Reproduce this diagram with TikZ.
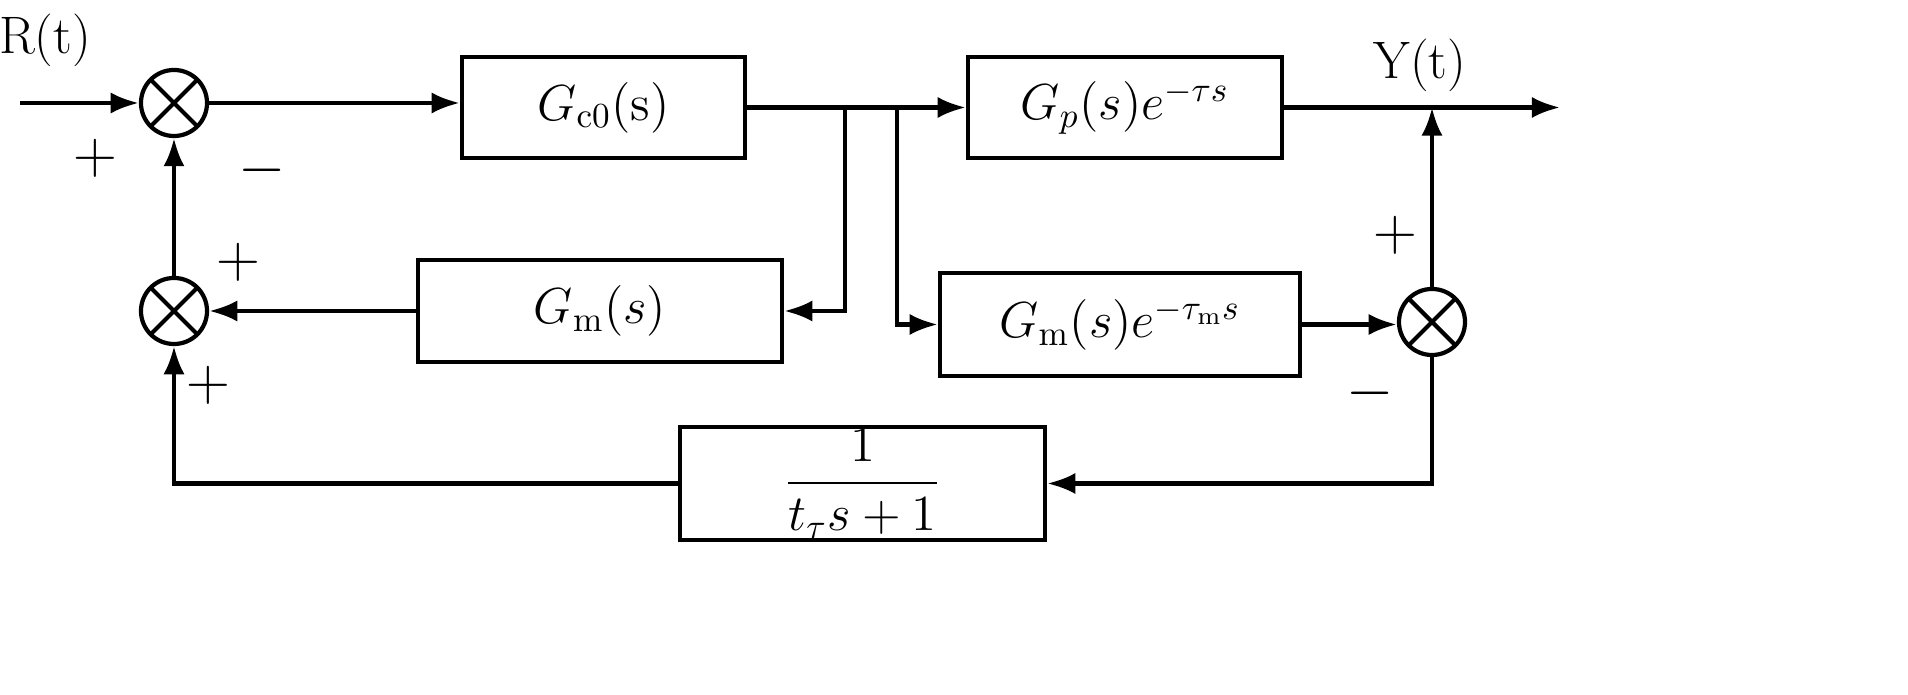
\documentclass[tikz,border=0pt]{standalone}
\usetikzlibrary{arrows.meta}
\begin{document}
\begin{tikzpicture}[x=0.01cm,y=-0.01cm,
  blk/.style={draw,line width=1.2pt,inner sep=0pt},
  sum/.style={draw,circle,line width=1.2pt,minimum size=0.66cm,inner sep=0pt,path picture={\draw[line width=1.2pt] ([shift={(-0.233cm,0.233cm)}]path picture bounding box.center)--([shift={(0.233cm,-0.233cm)}]path picture bounding box.center) ([shift={(0.233cm,0.233cm)}]path picture bounding box.center)--([shift={(-0.233cm,-0.233cm)}]path picture bounding box.center);}},
  ar/.style={line width=1.2pt,-{Latex[length=8pt,width=6pt]}},
  ln/.style={line width=1.2pt},
  lbl/.style={font=\fontsize{14}{16}\selectfont},
  sg/.style={font=\fontsize{18}{20}\selectfont}]
\useasboundingbox (0,0) rectangle (1908,695);
\node[sum] (s1) at (174,103) {};
\node[sum] (s2) at (174,311) {};
\node[sum] (s3) at (1432,322) {};
\node[blk,minimum height=1.01cm,minimum width=2.83cm,lbl] (gc) at (603.5,107.5) {$G_{\mathrm{c0}}(\mathrm{s})$};
\node[blk,minimum height=1.01cm,minimum width=3.14cm,lbl] (gp) at (1125,107.5) {$G_p(s)e^{-\tau s}$};
\node[blk,minimum height=1.02cm,minimum width=3.64cm,lbl] (gm) at (600,311) {$G_{\mathrm{m}}(s)$};
\node[blk,minimum height=1.03cm,minimum width=3.60cm,lbl] (gme) at (1120,324.5) {$G_{\mathrm{m}}(s)e^{-\tau_{\mathrm{m}}s}$};
\node[blk,minimum height=1.13cm,minimum width=3.65cm,lbl] (f) at (862.5,483.5) {$\displaystyle\frac{1}{t_\tau s+1}$};
\coordinate (in) at (20,103);
\coordinate (out) at (1560,107.5);
\coordinate (b1) at (845,107.5);
\coordinate (b2) at (897,107.5);
\coordinate (y) at (1432,107.5);
\draw[ar] (in) -- (s1.west);
\draw[ar] (s1.east) -- (s1.east -| gc.west);
\draw[ln] (gc.east) -- (b2);
\draw[ar] (b2) -- (gp.west);
\draw[ar] (gp.east) -- (out);
\draw[ar] (b1) |- (gm.east);
\draw[ar] (b2) |- (gme.west);
\draw[ar] (gme.east) -- (gme.east -| s3.west);
\draw[ar] (s3.north) -- (y);
\draw[ar] (s3.south) |- (f.east);
\draw[ar] (f.west) -| (s2.south);
\draw[ar] (gm.west) -- (s2.east);
\draw[ar] (s2.north) -- (s1.south);
\node[font=\fontsize{15}{17}\selectfont] (rt) at (45,40) {R(t)};
\node[font=\fontsize{15}{17}\selectfont] (yt) at (1420,65) {Y(t)};
\node[sg] (p1) at (95,158) {$+$};
\node[sg] (m1) at (262,170) {$-$};
\node[sg] (p2) at (238,262) {$+$};
\node[sg] (p3) at (208,385) {$+$};
\node[sg] (p4) at (1395,235) {$+$};
\node[sg] (m2) at (1370,393) {$-$};
\end{tikzpicture}
\end{document}
